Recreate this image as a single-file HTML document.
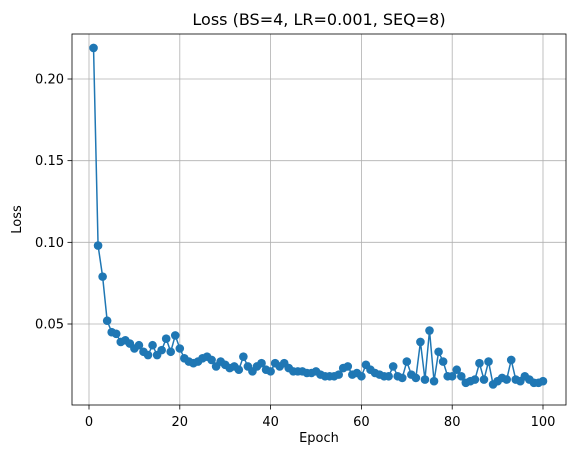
<!DOCTYPE html>
<html><head><meta charset="utf-8"><style>
body{margin:0;background:#fff;font-family:"Liberation Sans","DejaVu Sans",sans-serif;}
svg text{font-family:"DejaVu Sans","Liberation Sans",sans-serif;}
</style></head><body>
<svg id="c" width="576" height="455"></svg>
<script>
const epochs = Array.from({length:100},(_,i)=>i+1);
const loss = [0.219,0.098,0.079,0.052,0.045,0.044,0.039,0.040,0.038,0.035,
0.037,0.033,0.031,0.037,0.031,0.034,0.041,0.033,0.043,0.035,
0.029,0.027,0.026,0.027,0.029,0.030,0.028,0.024,0.027,0.025,
0.023,0.024,0.022,0.030,0.024,0.021,0.024,0.026,0.022,0.021,
0.026,0.024,0.026,0.023,0.021,0.021,0.021,0.020,0.020,0.021,
0.019,0.018,0.018,0.018,0.019,0.023,0.024,0.019,0.020,0.018,
0.025,0.022,0.020,0.019,0.018,0.018,0.024,0.018,0.017,0.027,
0.019,0.017,0.039,0.016,0.046,0.015,0.033,0.027,0.018,0.018,
0.022,0.018,0.014,0.015,0.016,0.026,0.016,0.027,0.013,0.015,
0.017,0.016,0.028,0.016,0.015,0.018,0.016,0.014,0.014,0.015];
const xTicks = [0,20,40,60,80,100];
const yTicks = [0.05,0.10,0.15,0.20];
const yTickLabels = ["0.05","0.10","0.15","0.20"];

const L=72,R=566,T=34,B=405;
const x=v=>89+(v-0)*(543-89)/100;
const y=v=>324-(v-0.05)*(324-79)/0.15;
const svg=document.getElementById('c');
const NS='http://www.w3.org/2000/svg';
function mk(t,a,p){const e=document.createElementNS(NS,t);for(const k in a)e.setAttribute(k,a[k]);(p||svg).appendChild(e);return e;}

xTicks.forEach(v=>{
  const g=mk('line',{x1:x(v),x2:x(v),y1:T,y2:B,stroke:'#b0b0b0','stroke-width':0.8});
  
  
  mk('line',{x1:x(v),x2:x(v),y1:B,y2:B+4.5,stroke:'#000','stroke-width':0.8});
  const t=mk('text',{x:x(v),y:B+21,'text-anchor':'middle','font-size':13});
  t.textContent=v;
  
  
});
yTicks.forEach((v,i)=>{
  const g=mk('line',{x1:L,x2:R,y1:y(v),y2:y(v),stroke:'#b0b0b0','stroke-width':0.8});
  
  
  mk('line',{x1:L-4.5,x2:L,y1:y(v),y2:y(v),stroke:'#000','stroke-width':0.8});
  const t=mk('text',{x:L-8,y:y(v)+4.5,'text-anchor':'end','font-size':13});
  t.textContent=yTickLabels[i];
  
  
});
const pts=epochs.map((e,i)=>x(e)+','+y(loss[i])).join(' ');
const pl=mk('polyline',{points:pts,fill:'none',stroke:'#1f77b4','stroke-width':1.5});


epochs.forEach((e,i)=>{
  const c=mk('circle',{cx:x(e),cy:y(loss[i]),r:4.3,fill:'#1f77b4'});
  
  
});
const fr=mk('rect',{x:L,y:T,width:R-L,height:B-T,fill:'none',stroke:'#000','stroke-width':0.8});


const ti=mk('text',{x:(L+R)/2,y:T-9,'text-anchor':'middle','font-size':16});
ti.textContent='Loss (BS=4, LR=0.001, SEQ=8)';


const xl=mk('text',{x:(L+R)/2,y:442,'text-anchor':'middle','font-size':13});
xl.textContent='Epoch';


const yl=mk('text',{x:21,y:(T+B)/2,'text-anchor':'middle','font-size':13,transform:`rotate(-90 21 ${(T+B)/2})`});
yl.textContent='Loss';


</script>
</body></html>
